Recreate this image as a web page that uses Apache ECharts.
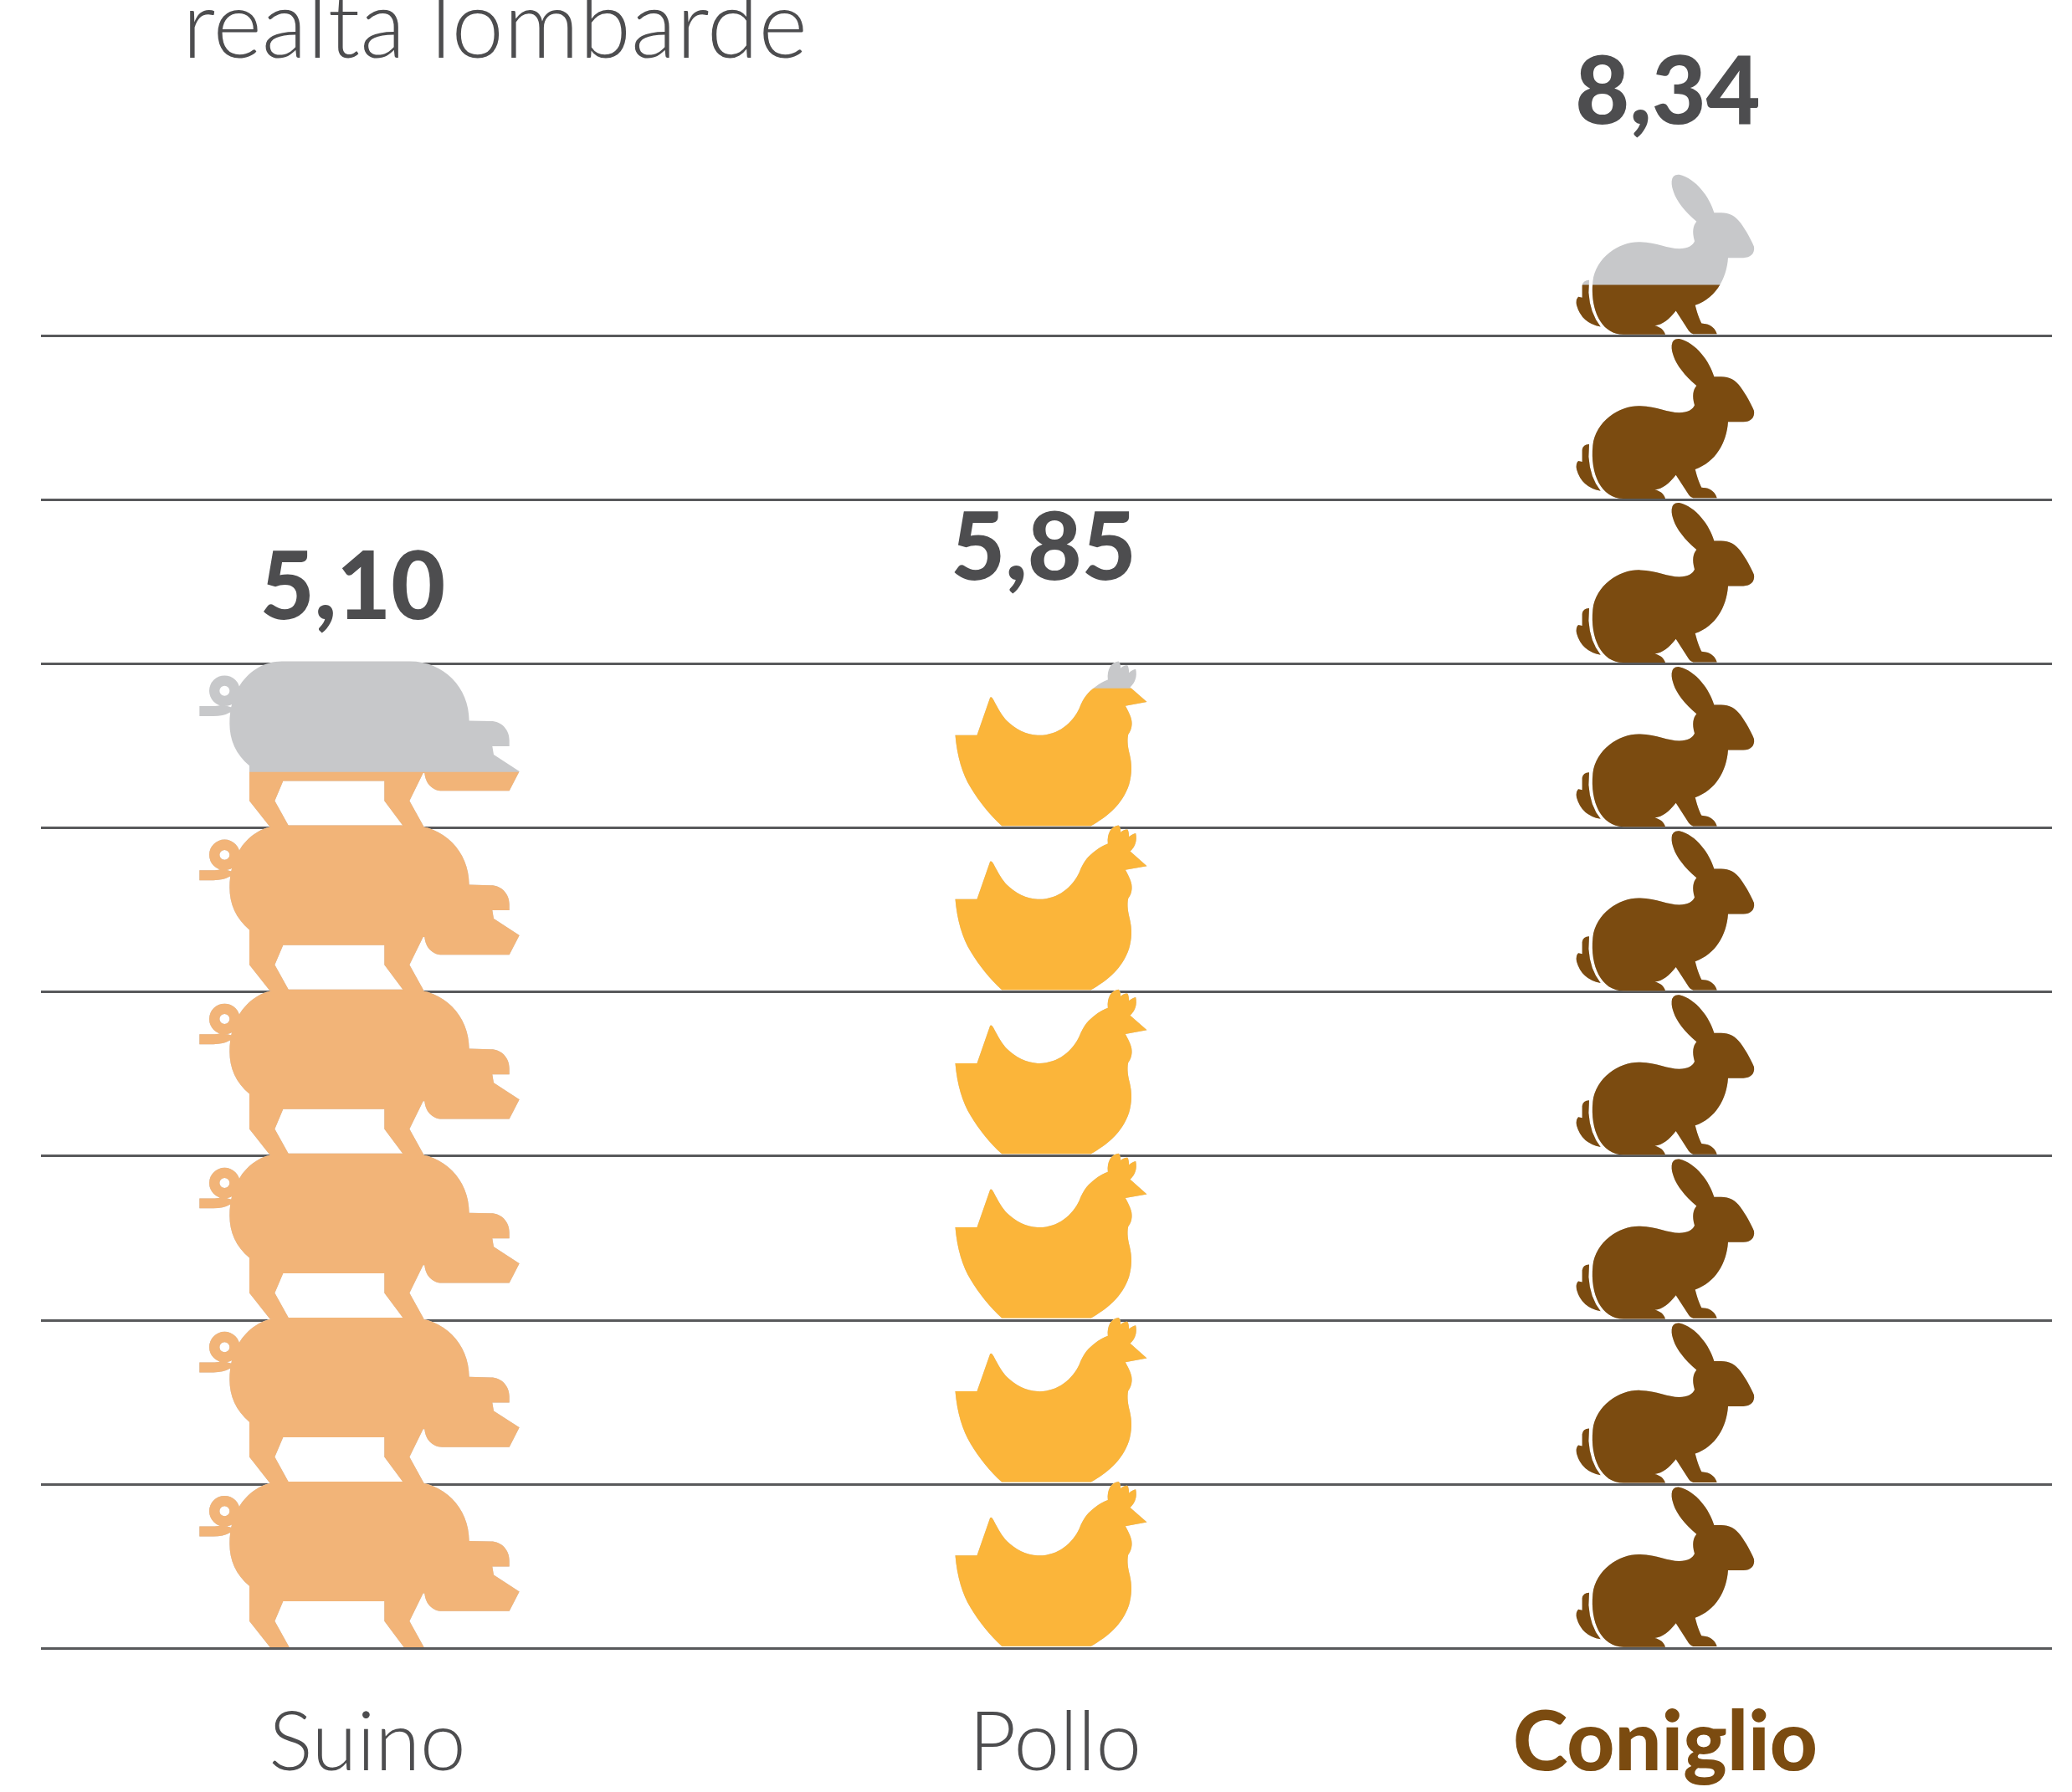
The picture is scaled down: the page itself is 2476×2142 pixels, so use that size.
<!DOCTYPE html>
<html><head><meta charset="utf-8">
<style>html,body{margin:0;padding:0;background:#fff}#c{width:2476px;height:2142px}</style>
<script src="https://cdn.jsdelivr.net/npm/echarts@6/dist/echarts.min.js"></script>
</head><body><div id="c"></div>
<script>
const categories = ['Suino', 'Pollo', 'Coniglio'];
const filledLevels = [5.34, 5.85, 8.31];
const rowCounts = [6, 6, 9];
const valueLabels = ['5,10', '5,85', '8,34'];
const titleText = 'realta lombarde';

const colors = ['#f2b478', '#fbb53a', '#7b4b10'];
const GREY = '#c7c8ca', INK = '#4d4d4f', LINE = '#58595b';
const ROW = 196.1, BOXH = 199;

const box = (x0, y0, x1, y1) => `M${x0} ${y0}L${x0} ${y0}ZM${x1} ${y1}L${x1} ${y1}Z`;
const PIG = 'path://' + box(115, 568, 1262, 1165) +
 'M223 790C223 740 235 690 262 650C295 600 350 567 410 567L870 567C990 567 1082 660 1082 780L1160 782C1197 782 1226 812 1226 850L1226 872L1165 872L1170 902L1262 962L1226 1032L985 1032C950 1032 925 1005 922 968L917 968L868 1068L920 1162L848 1162L778 1068L778 997L415 997L385 1068L437 1162L368 1162L294 1068L294 942C245 900 223 850 223 790Z' +
 'M150 673A55 55 0 1 1 260 673A55 55 0 1 1 150 673ZM223 673A18 18 0 1 0 187 673A18 18 0 1 0 223 673Z' +
 'M115 728L170 728Q185 728 195 722L240 735L225 750Q200 764 165 764L115 764Z';
const HEN = 'path://' + box(125, 598, 812, 1195) +
 'M125 862L203 862L250 727Q255 722 262 735C280 770 295 795 310 810C340 840 380 860 420 862C490 865 545 820 570 765C585 725 605 705 625 690Q650 670 672 663C668 625 685 600 710 597C716 600 718 612 718 622C725 615 735 610 743 612C747 620 748 630 748 638C755 632 765 625 772 625C778 650 770 675 752 690L812 743L735 757C750 785 760 805 758 825C757 840 752 850 745 860C740 885 745 910 750 930C760 970 758 1005 748 1040C725 1110 670 1155 612 1188L292 1188C250 1150 210 1100 180 1050C150 1000 132 940 125 862Z';
const RABBIT = 'path://' + box(100, 487, 740, 1084) +
 'M443 530Q445 505 470 507C530 520 580 590 595 643L620 643C650 643 672 655 690 680C710 708 728 740 738 765C742 790 725 805 700 805L645 805C640 880 600 950 527 975C535 1005 542 1025 550 1040L565 1042C585 1045 600 1060 605 1078L520 1078C510 1075 505 1068 500 1060L458 995C435 1025 410 1045 382 1048C400 1052 415 1062 420 1080L270 1080C190 1080 150 990 160 890C170 800 260 745 330 748C390 750 430 772 470 772C500 772 520 760 525 745C515 710 520 690 532 675C490 640 460 600 450 570C445 555 442 545 443 530Z' +
 'M147 885Q125 885 122 905L122 948L108 945Q98 955 102 975Q120 1040 188 1052Q150 1005 145 930Z';
const symbols = [PIG, HEN, RABBIT];
const symbolW = [382.3, 229, 213.3];
const symbolDx = [-20, 5.5, -61.5];
const labelOffset = [[-28, -27], [-3.5, -74], [-58.5, -31]];

const base = { symbolRepeat: true, symbolMargin: '-1.45!', silent: true, animation: false };
const style = (i) => ({ symbol: symbols[i], symbolSize: [symbolW[i], BOXH], symbolOffset: [symbolDx[i], -1.45] });

const chart = echarts.init(document.getElementById('c'), null, { renderer: 'canvas' });
chart.setOption({
  animation: false,
  backgroundColor: '#fff',
  title: { text: titleText, left: 213, top: -28, textStyle: { fontFamily: 'Lato', fontWeight: 300, fontSize: 112, color: INK } },
  grid: { left: 49, width: 2403, top: 9, height: 1961 },
  xAxis: {
    type: 'category', data: categories,
    axisLine: { show: false }, axisTick: { show: false },
    axisLabel: {
      margin: 65, interval: 0,
      formatter: (v, i) => `{${'abc'[i]}|${v}}`,
      rich: {
        a: { fontFamily: 'Lato', fontWeight: 300, fontSize: 98, color: INK, padding: [0, 21, 0, 0] },
        b: { fontFamily: 'Lato', fontWeight: 300, fontSize: 98, color: INK, padding: [0, 0, 0, 21] },
        c: { fontFamily: 'Lato', fontWeight: 900, fontSize: 99, color: colors[2], padding: [0, 123, 0, 0] }
      }
    }
  },
  yAxis: {
    type: 'value', min: 0, max: 10, interval: 1,
    axisLine: { show: false }, axisTick: { show: false }, axisLabel: { show: false },
    splitLine: { show: true, lineStyle: { width: 3, color: [LINE, LINE, LINE, LINE, LINE, LINE, LINE, LINE, LINE, 'rgba(0,0,0,0)', 'rgba(0,0,0,0)'] } }
  },
  series: [
    {
      type: 'pictorialBar', ...base, z: 2,
      data: rowCounts.map((v, i) => ({
        value: v, ...style(i), itemStyle: { color: GREY },
        label: {
          show: true, position: 'top', offset: labelOffset[i], formatter: valueLabels[i],
          fontFamily: 'Lato', fontWeight: 900, fontSize: 112, color: INK
        }
      }))
    },
    {
      type: 'pictorialBar', ...base, z: 3, symbolClip: true,
      data: filledLevels.map((v, i) => ({
        value: v, ...style(i), symbolBoundingData: rowCounts[i], itemStyle: { color: colors[i] }
      }))
    }
  ]
});
</script></body></html>
